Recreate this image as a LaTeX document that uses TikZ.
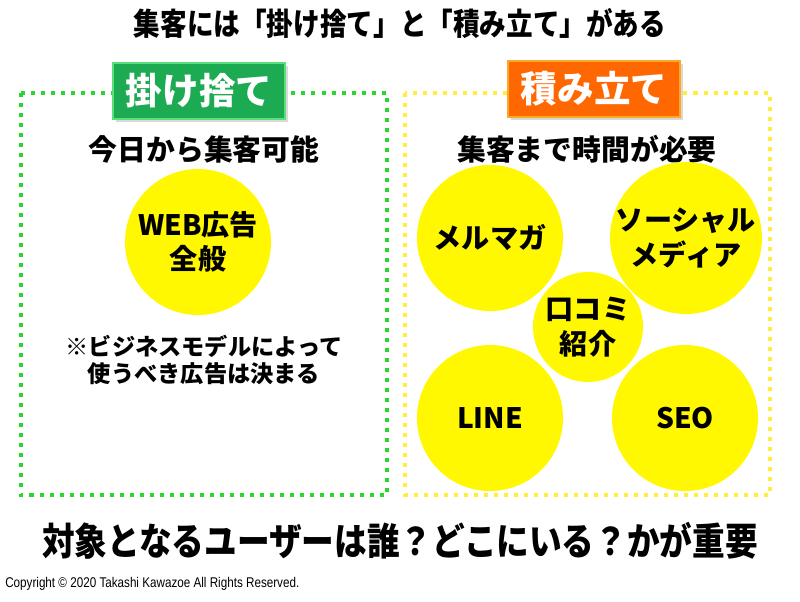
\documentclass[tikz,border=0pt]{standalone}
\usepackage{fontspec}
\setmainfont{Noto Sans CJK JP}
\newfontfamily\jpnarrow{Noto Sans CJK JP}[FakeStretch=0.86]
\newfontfamily\copyfont{Liberation Sans}[FakeStretch=0.83]
\usetikzlibrary{shadows}
\definecolor{dotgreen}{RGB}{45,214,45}
\definecolor{dotyellow}{RGB}{255,238,60}
\definecolor{labelgreen}{RGB}{28,170,82}
\definecolor{edgegreen}{RGB}{90,224,120}
\definecolor{labelorange}{RGB}{255,104,0}
\definecolor{edgeorange}{RGB}{250,168,40}
\definecolor{bubbleyellow}{RGB}{255,248,0}

\begin{document}
\begin{tikzpicture}[x=0.025cm,y=-0.025cm,
  dotline/.style={line width=2.85pt,dash pattern=on 2.85pt off 4.27pt},
  tag/.style={minimum width=4.3cm,minimum height=1.4cm,line width=2pt,text=white,
    font=\bfseries\fontsize{26}{28}\selectfont,
    drop shadow={shadow xshift=2pt,shadow yshift=-2pt,opacity=0.3}},
  bubble/.style={circle,fill=bubbleyellow,minimum size=3.65cm,inner sep=0pt,align=center,
    font=\bfseries\fontsize{20}{24.5}\selectfont},
  lead/.style={font=\bfseries\fontsize{20.5}{24}\selectfont}]
\useasboundingbox (0,0) rectangle (800,601);
\node[font=\jpnarrow\bfseries\fontsize{22}{26}\selectfont] (title) at (400,23) {集客には「掛け捨て」と「積み立て」がある};
\draw[dotline,draw=dotgreen] (21,93) rectangle (387,495);
\draw[dotline,draw=dotyellow] (405,93) rectangle (770,495);
\node[tag,fill=labelgreen,draw=edgegreen] (kakesute) at (199,91) {掛け捨て};
\node[tag,fill=labelorange,draw=edgeorange] (tsumitate) at (594,89) {積み立て};
\node[lead] (nowlead) at (204,149) {今日から集客可能};
\node[lead] (waitlead) at (587,149) {集客まで時間が必要};
\node[bubble] (webad) at (198,242) {WEB広告\\全般};
\node[align=center,font=\bfseries\fontsize{16.5}{19.2}\selectfont] (note) at (204,360) {※ビジネスモデルによって\\使うべき広告は決まる};
\node[bubble] (mailmag) at (490,238) {メルマガ};
\node[bubble] (social) at (686,238) {ソーシャル\\メディア};
\node[bubble] (line) at (490,418) {LINE};
\node[bubble] (seo) at (685,418) {SEO};
\node[bubble,minimum size=2.75cm] (kuchikomi) at (588,327) {口コミ\\紹介};
\node[font=\jpnarrow\bfseries\fontsize{27}{30}\selectfont] (target) at (400,541) {対象となるユーザーは誰？どこにいる？かが重要};
\node[anchor=west,inner sep=0pt,font=\copyfont\fontsize{10}{12}\selectfont] (copyright) at (5,584) {Copyright © 2020 Takashi Kawazoe All Rights Reserved.};
\end{tikzpicture}
\end{document}
